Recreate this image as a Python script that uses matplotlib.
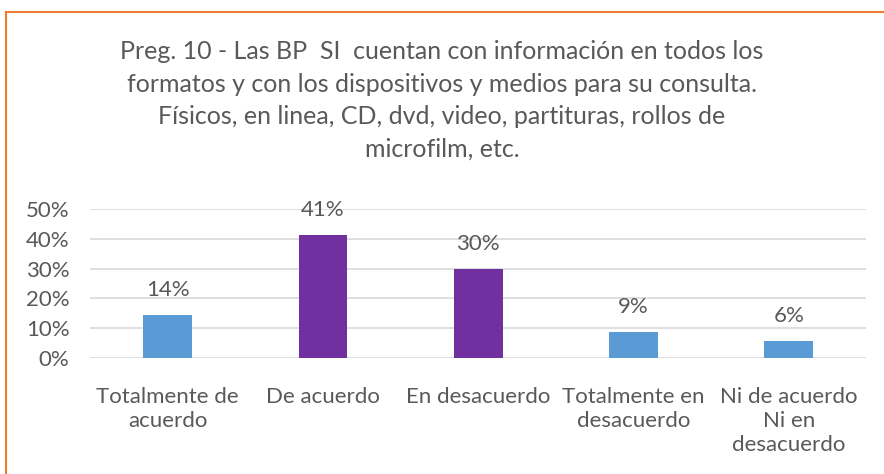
import matplotlib
matplotlib.use("Agg")
import matplotlib.pyplot as plt
from matplotlib.lines import Line2D

plt.rcParams['font.family'] = ['Lato', 'DejaVu Sans']

categories = ["Totalmente de\nacuerdo", "De acuerdo", "En desacuerdo",
              "Totalmente en\ndesacuerdo", "Ni de acuerdo\nNi en\ndesacuerdo"]
values = [0.143, 0.414, 0.300, 0.086, 0.057]
labels = ["14%", "41%", "30%", "9%", "6%"]
bar_colors = ["#5B9BD5", "#7030A0", "#7030A0", "#5B9BD5", "#5B9BD5"]

title = ("Preg. 10 - Las BP  SI  cuentan con información en todos los\n"
         "formatos y con los dispositivos y medios para su consulta.\n"
         "Físicos, en linea, CD, dvd, video, partituras, rollos de\n"
         "microfilm, etc.")

text_color = "#595959"

fig = plt.figure(figsize=(8.84, 4.74), dpi=100)
ax = fig.add_axes([0.102, 0.2447, 0.878, 0.3143])

x = range(len(categories))
bars = ax.bar(x, values, width=0.315, color=bar_colors, zorder=3)
for b, lab in zip(bars, labels):
    ax.annotate(lab, (b.get_x() + b.get_width() / 2, b.get_height()),
                xytext=(0, 18), textcoords='offset points',
                ha='center', va='center', fontsize=16, color=text_color)

ax.set_xlim(-0.5, len(categories) - 0.5)
ax.set_ylim(0, 0.5)
ax.set_yticks([0, 0.1, 0.2, 0.3, 0.4, 0.5])
ax.set_yticklabels(["0%", "10%", "20%", "30%", "40%", "50%"])
ax.set_xticks(list(x))
ax.set_xticklabels(categories, linespacing=1.25)
ax.tick_params(axis='both', length=0, labelsize=16, colors=text_color)
ax.tick_params(axis='x', pad=21)
ax.tick_params(axis='y', pad=15)
ax.grid(axis='y', color="#D9D9D9", linewidth=1.2, zorder=0)
for s in ax.spines.values():
    s.set_visible(False)

fig.text(0.5, 0.915, title, ha='center', va='top', fontsize=18,
         color=text_color, linespacing=1.5)

# orange chart border (only left and top edges visible in the crop)
fig.add_artist(Line2D([6 / 884, 6 / 884], [0, 1 - 12 / 474], color="#ED7D31", linewidth=1.5))
fig.add_artist(Line2D([6 / 884, 1], [1 - 12 / 474, 1 - 12 / 474], color="#ED7D31", linewidth=1.5))

fig.savefig("out.png", dpi=100)
